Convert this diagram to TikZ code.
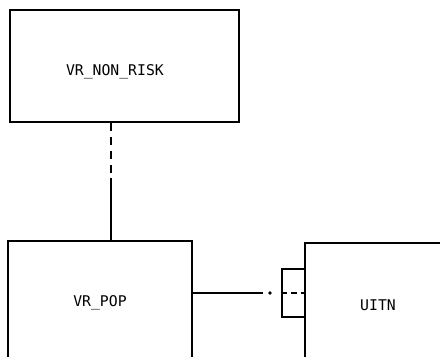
\documentclass[tikz,border=0pt]{standalone}
\usepackage{fontspec}
\setmonofont{DejaVu Sans Mono}
\usetikzlibrary{positioning}

\begin{document}
\begin{tikzpicture}[
  x=0.025cm, y=-0.025cm,
  entity/.style={rectangle, draw, line width=1.2pt, font=\fontsize{10.5}{12}\selectfont\ttfamily, inner sep=0pt},
  plugbox/.style={rectangle, draw, line width=1pt, minimum width=0.575cm, minimum height=1.2cm, inner sep=0pt},
  link/.style={line width=0.9pt, draw=black}
]
\useasboundingbox (0,0) rectangle (440,356);
\clip (0,0) rectangle (440,356);
% entity boxes
\node[entity, minimum width=5.725cm, minimum height=2.8cm,
  label={[font=\fontsize{10.5}{12}\selectfont\ttfamily, xshift=-0.24cm, yshift=-0.15cm]center:VR\_NON\_RISK}] (nonrisk) at (124.5,66) {};
\node[entity, minimum width=4.6cm, minimum height=3.1cm] (pop) at (100,303) {VR\_POP};
\node[entity, minimum width=3.65cm, minimum height=3.1cm] (uitn) at (378,305) {UITN};
\node[plugbox] (plug) at (293.5,293) {};
\coordinate (joint) at (111,178);
\coordinate (tick) at (270,293);
% relationships
\draw[link, dash pattern=on 6pt off 4pt] (joint |- nonrisk.south) -- (joint);
\draw[link] (joint) -- (joint |- pop.north);
\draw[link] (pop.east |- plug.center) -- ([xshift=-0.175cm]tick);
\fill (tick) circle (1.4pt);
\draw[link, dash pattern=on 4pt off 3pt] (plug.west) -- (plug.east);
\end{tikzpicture}
\end{document}
